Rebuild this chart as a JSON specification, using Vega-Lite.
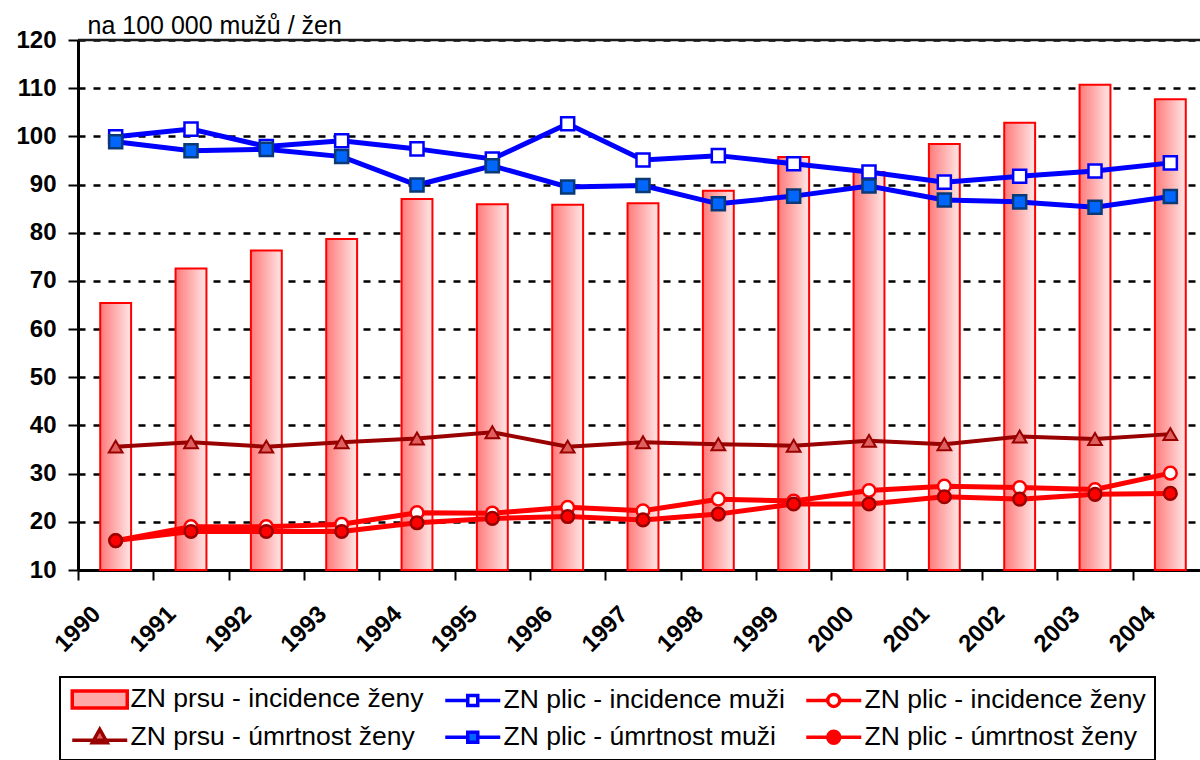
{
  "$schema": "https://vega.github.io/schema/vega-lite/v6.json",
  "width": 1122,
  "height": 530,
  "autosize": {"type": "none"},
  "padding": {"left": 78, "top": 40, "right": 0, "bottom": 190},
  "background": "white",
  "config": {
    "view": {"stroke": null},
    "font": "Liberation Sans",
    "legend": {
      "strokeColor": "black",
      "strokeWidth": 2,
      "padding": 9,
      "labelFont": "Liberation Sans",
      "labelFontSize": 26.5,
      "labelColor": "black",
      "labelLimit": 0,
      "labelOffset": 35,
      "symbolSize": 400,
      "symbolStrokeWidth": 3.5,
      "symbolOpacity": 1,
      "columnPadding": 14,
      "rowPadding": 7
    }
  },
  "data": {
    "values": [
      {"year": "1990", "series": "ZN prsu - incidence ženy", "value": 65.4},
      {"year": "1991", "series": "ZN prsu - incidence ženy", "value": 72.6},
      {"year": "1992", "series": "ZN prsu - incidence ženy", "value": 76.3},
      {"year": "1993", "series": "ZN prsu - incidence ženy", "value": 78.7},
      {"year": "1994", "series": "ZN prsu - incidence ženy", "value": 87.0},
      {"year": "1995", "series": "ZN prsu - incidence ženy", "value": 85.9},
      {"year": "1996", "series": "ZN prsu - incidence ženy", "value": 85.8},
      {"year": "1997", "series": "ZN prsu - incidence ženy", "value": 86.1},
      {"year": "1998", "series": "ZN prsu - incidence ženy", "value": 88.7},
      {"year": "1999", "series": "ZN prsu - incidence ženy", "value": 95.7},
      {"year": "2000", "series": "ZN prsu - incidence ženy", "value": 92.6},
      {"year": "2001", "series": "ZN prsu - incidence ženy", "value": 98.4},
      {"year": "2002", "series": "ZN prsu - incidence ženy", "value": 102.8},
      {"year": "2003", "series": "ZN prsu - incidence ženy", "value": 110.7},
      {"year": "2004", "series": "ZN prsu - incidence ženy", "value": 107.7},
      {"year": "1990", "series": "ZN plic - incidence muži", "value": 99.9},
      {"year": "1991", "series": "ZN plic - incidence muži", "value": 101.5},
      {"year": "1992", "series": "ZN plic - incidence muži", "value": 97.9},
      {"year": "1993", "series": "ZN plic - incidence muži", "value": 99.1},
      {"year": "1994", "series": "ZN plic - incidence muži", "value": 97.4},
      {"year": "1995", "series": "ZN plic - incidence muži", "value": 95.3},
      {"year": "1996", "series": "ZN plic - incidence muži", "value": 102.6},
      {"year": "1997", "series": "ZN plic - incidence muži", "value": 95.1},
      {"year": "1998", "series": "ZN plic - incidence muži", "value": 96.0},
      {"year": "1999", "series": "ZN plic - incidence muži", "value": 94.3},
      {"year": "2000", "series": "ZN plic - incidence muži", "value": 92.6},
      {"year": "2001", "series": "ZN plic - incidence muži", "value": 90.5},
      {"year": "2002", "series": "ZN plic - incidence muži", "value": 91.7},
      {"year": "2003", "series": "ZN plic - incidence muži", "value": 92.8},
      {"year": "2004", "series": "ZN plic - incidence muži", "value": 94.5},
      {"year": "1990", "series": "ZN plic - incidence ženy", "value": 16.1},
      {"year": "1991", "series": "ZN plic - incidence ženy", "value": 19.0},
      {"year": "1992", "series": "ZN plic - incidence ženy", "value": 19.0},
      {"year": "1993", "series": "ZN plic - incidence ženy", "value": 19.5},
      {"year": "1994", "series": "ZN plic - incidence ženy", "value": 21.9},
      {"year": "1995", "series": "ZN plic - incidence ženy", "value": 21.8},
      {"year": "1996", "series": "ZN plic - incidence ženy", "value": 23.0},
      {"year": "1997", "series": "ZN plic - incidence ženy", "value": 22.3},
      {"year": "1998", "series": "ZN plic - incidence ženy", "value": 24.7},
      {"year": "1999", "series": "ZN plic - incidence ženy", "value": 24.3},
      {"year": "2000", "series": "ZN plic - incidence ženy", "value": 26.5},
      {"year": "2001", "series": "ZN plic - incidence ženy", "value": 27.4},
      {"year": "2002", "series": "ZN plic - incidence ženy", "value": 27.1},
      {"year": "2003", "series": "ZN plic - incidence ženy", "value": 26.7},
      {"year": "2004", "series": "ZN plic - incidence ženy", "value": 30.1},
      {"year": "1990", "series": "ZN prsu - úmrtnost ženy", "value": 35.6},
      {"year": "1991", "series": "ZN prsu - úmrtnost ženy", "value": 36.5},
      {"year": "1992", "series": "ZN prsu - úmrtnost ženy", "value": 35.6},
      {"year": "1993", "series": "ZN prsu - úmrtnost ženy", "value": 36.5},
      {"year": "1994", "series": "ZN prsu - úmrtnost ženy", "value": 37.3},
      {"year": "1995", "series": "ZN prsu - úmrtnost ženy", "value": 38.6},
      {"year": "1996", "series": "ZN prsu - úmrtnost ženy", "value": 35.6},
      {"year": "1997", "series": "ZN prsu - úmrtnost ženy", "value": 36.5},
      {"year": "1998", "series": "ZN prsu - úmrtnost ženy", "value": 36.1},
      {"year": "1999", "series": "ZN prsu - úmrtnost ženy", "value": 35.8},
      {"year": "2000", "series": "ZN prsu - úmrtnost ženy", "value": 36.8},
      {"year": "2001", "series": "ZN prsu - úmrtnost ženy", "value": 36.1},
      {"year": "2002", "series": "ZN prsu - úmrtnost ženy", "value": 37.7},
      {"year": "2003", "series": "ZN prsu - úmrtnost ženy", "value": 37.2},
      {"year": "2004", "series": "ZN prsu - úmrtnost ženy", "value": 38.2},
      {"year": "1990", "series": "ZN plic - úmrtnost muži", "value": 98.9},
      {"year": "1991", "series": "ZN plic - úmrtnost muži", "value": 97.0},
      {"year": "1992", "series": "ZN plic - úmrtnost muži", "value": 97.3},
      {"year": "1993", "series": "ZN plic - úmrtnost muži", "value": 95.8},
      {"year": "1994", "series": "ZN plic - úmrtnost muži", "value": 89.9},
      {"year": "1995", "series": "ZN plic - úmrtnost muži", "value": 93.9},
      {"year": "1996", "series": "ZN plic - úmrtnost muži", "value": 89.5},
      {"year": "1997", "series": "ZN plic - úmrtnost muži", "value": 89.8},
      {"year": "1998", "series": "ZN plic - úmrtnost muži", "value": 86.0},
      {"year": "1999", "series": "ZN plic - úmrtnost muži", "value": 87.6},
      {"year": "2000", "series": "ZN plic - úmrtnost muži", "value": 89.7},
      {"year": "2001", "series": "ZN plic - úmrtnost muži", "value": 86.8},
      {"year": "2002", "series": "ZN plic - úmrtnost muži", "value": 86.4},
      {"year": "2003", "series": "ZN plic - úmrtnost muži", "value": 85.3},
      {"year": "2004", "series": "ZN plic - úmrtnost muži", "value": 87.5},
      {"year": "1990", "series": "ZN plic - úmrtnost ženy", "value": 16.1},
      {"year": "1991", "series": "ZN plic - úmrtnost ženy", "value": 18.0},
      {"year": "1992", "series": "ZN plic - úmrtnost ženy", "value": 18.0},
      {"year": "1993", "series": "ZN plic - úmrtnost ženy", "value": 18.0},
      {"year": "1994", "series": "ZN plic - úmrtnost ženy", "value": 19.8},
      {"year": "1995", "series": "ZN plic - úmrtnost ženy", "value": 20.7},
      {"year": "1996", "series": "ZN plic - úmrtnost ženy", "value": 21.1},
      {"year": "1997", "series": "ZN plic - úmrtnost ženy", "value": 20.4},
      {"year": "1998", "series": "ZN plic - úmrtnost ženy", "value": 21.6},
      {"year": "1999", "series": "ZN plic - úmrtnost ženy", "value": 23.7},
      {"year": "2000", "series": "ZN plic - úmrtnost ženy", "value": 23.7},
      {"year": "2001", "series": "ZN plic - úmrtnost ženy", "value": 25.2},
      {"year": "2002", "series": "ZN plic - úmrtnost ženy", "value": 24.7},
      {"year": "2003", "series": "ZN plic - úmrtnost ženy", "value": 25.7},
      {"year": "2004", "series": "ZN plic - úmrtnost ženy", "value": 25.9}
    ]
  },
  "layer": [
    {
      "encoding": {
        "x": {
          "field": "year",
          "type": "ordinal",
          "scale": {"range": [0, 1130], "paddingInner": 0.59, "paddingOuter": 0.295},
          "axis": {
            "title": null,
            "labelAngle": -45,
            "labelAlign": "right",
            "labelBaseline": "middle",
            "labelFont": "Liberation Sans",
            "labelFontSize": 24,
            "labelFontWeight": "bold",
            "labelColor": "black",
            "labelPadding": 30,
            "labelOffset": 3,
            "bandPosition": 0,
            "tickOffset": -22.2,
            "tickSize": 10,
            "tickColor": "black",
            "tickWidth": 2,
            "domainColor": "black",
            "domainWidth": 3,
            "grid": false
          }
        },
        "y": {
          "field": "value",
          "type": "quantitative",
          "scale": {"domain": [10, 120], "nice": false, "zero": false},
          "axis": {
            "title": "na 100 000 mužů / žen",
            "titleAngle": 0,
            "titleAlign": "left",
            "titleBaseline": "alphabetic",
            "titleX": 9,
            "titleY": -7,
            "titleFont": "Liberation Sans",
            "titleFontSize": 25,
            "titleFontWeight": "normal",
            "titleColor": "black",
            "values": [10, 20, 30, 40, 50, 60, 70, 80, 90, 100, 110, 120],
            "labelFont": "Liberation Sans",
            "labelFontSize": 24,
            "labelFontWeight": "bold",
            "labelColor": "black",
            "labelPadding": 12,
            "tickSize": 10,
            "tickColor": "black",
            "tickWidth": 2,
            "domainColor": "black",
            "domainWidth": 3,
            "grid": true,
            "gridColor": "black",
            "gridDash": [7, 8],
            "gridWidth": 2.5
          }
        }
      },
      "layer": [
        {
          "transform": [{"filter": "datum.series === 'ZN prsu - incidence ženy'"}],
          "mark": {
            "type": "bar",
            "opacity": 1,
            "fill": {"gradient": "linear", "x1": 0, "y1": 0, "x2": 1, "y2": 0, "stops": [{"offset": 0, "color": "#ff7a7a"}, {"offset": 1, "color": "#ffe6e6"}]},
            "stroke": "#ff0000",
            "strokeWidth": 2
          },
          "encoding": {"y2": {"datum": 10}}
        },
        {
          "transform": [{"filter": "datum.series === 'ZN plic - incidence muži'"}],
          "mark": {"type": "line", "color": "#0000ff", "strokeWidth": 5}
        },
        {
          "transform": [{"filter": "datum.series === 'ZN plic - incidence muži'"}],
          "mark": {"type": "point", "shape": "square", "filled": true, "opacity": 1, "fill": "white", "stroke": "#0000ff", "strokeWidth": 2.5, "size": 170}
        },
        {
          "transform": [{"filter": "datum.series === 'ZN plic - incidence ženy'"}],
          "mark": {"type": "line", "color": "#ff0000", "strokeWidth": 5}
        },
        {
          "transform": [{"filter": "datum.series === 'ZN plic - incidence ženy'"}],
          "mark": {"type": "point", "shape": "circle", "filled": true, "opacity": 1, "fill": "white", "stroke": "#ff0000", "strokeWidth": 2.5, "size": 160}
        },
        {
          "transform": [{"filter": "datum.series === 'ZN prsu - úmrtnost ženy'"}],
          "mark": {"type": "line", "color": "#990000", "strokeWidth": 4}
        },
        {
          "transform": [{"filter": "datum.series === 'ZN prsu - úmrtnost ženy'"}],
          "mark": {"type": "point", "shape": "triangle-up", "filled": true, "opacity": 1, "fill": "#e06060", "stroke": "#990000", "strokeWidth": 2, "size": 190}
        },
        {
          "transform": [{"filter": "datum.series === 'ZN plic - úmrtnost muži'"}],
          "mark": {"type": "line", "color": "#0000ff", "strokeWidth": 5}
        },
        {
          "transform": [{"filter": "datum.series === 'ZN plic - úmrtnost muži'"}],
          "mark": {"type": "point", "shape": "square", "filled": true, "opacity": 1, "fill": "#0066ff", "stroke": "#0a3a75", "strokeWidth": 2.5, "size": 170}
        },
        {
          "transform": [{"filter": "datum.series === 'ZN plic - úmrtnost ženy'"}],
          "mark": {"type": "line", "color": "#ff0000", "strokeWidth": 5}
        },
        {
          "transform": [{"filter": "datum.series === 'ZN plic - úmrtnost ženy'"}],
          "mark": {"type": "point", "shape": "circle", "filled": true, "opacity": 1, "fill": "#ff0000", "stroke": "#990000", "strokeWidth": 2.5, "size": 160}
        },
        {
          "transform": [{"filter": "false"}],
          "mark": {"type": "point", "filled": true, "opacity": 1},
          "encoding": {
            "shape": {
              "field": "series",
              "type": "nominal",
              "scale": {
                "domain": ["ZN prsu - incidence ženy", "ZN plic - incidence muži", "ZN plic - incidence ženy", "ZN prsu - úmrtnost ženy", "ZN plic - úmrtnost muži", "ZN plic - úmrtnost ženy"],
                "range": [
                  "M-1,-0.85H4.5V0.85H-1Z",
                  "M-1,0H1.25M2.25,0H4.5M1.25,-0.5H2.25V0.5H1.25Z",
                  "M-1,0H1.15M2.35,0H4.5M2.35,0A0.6,0.6,0,1,1,1.15,0A0.6,0.6,0,1,1,2.35,0Z",
                  "M-1,0.3H4.5M1.75,-0.8L2.5,0.55H1Z",
                  "M-1,0H1.25M2.25,0H4.5M1.25,-0.5H2.25V0.5H1.25Z",
                  "M-1,0H1.15M2.35,0H4.5M2.35,0A0.6,0.6,0,1,1,1.15,0A0.6,0.6,0,1,1,2.35,0Z"
                ]
              },
              "legend": {"title": null, "orient": "none", "legendX": -18, "legendY": 637, "columns": 3, "direction": "horizontal"}
            },
            "fill": {
              "field": "series",
              "type": "nominal",
              "scale": {
                "domain": ["ZN prsu - incidence ženy", "ZN plic - incidence muži", "ZN plic - incidence ženy", "ZN prsu - úmrtnost ženy", "ZN plic - úmrtnost muži", "ZN plic - úmrtnost ženy"],
                "range": ["#ffa8a8", "#ffffff", "#ffffff", "#e06060", "#0066ff", "#ff0000"]
              },
              "legend": {"title": null, "orient": "none", "legendX": -18, "legendY": 637, "columns": 3, "direction": "horizontal"}
            },
            "stroke": {
              "field": "series",
              "type": "nominal",
              "scale": {
                "domain": ["ZN prsu - incidence ženy", "ZN plic - incidence muži", "ZN plic - incidence ženy", "ZN prsu - úmrtnost ženy", "ZN plic - úmrtnost muži", "ZN plic - úmrtnost ženy"],
                "range": ["#ff0000", "#0000ff", "#ff0000", "#990000", "#0000ff", "#ff0000"]
              },
              "legend": {"title": null, "orient": "none", "legendX": -18, "legendY": 637, "columns": 3, "direction": "horizontal"}
            }
          }
        }
      ]
    },
    {
      "data": {"values": [{"level": 120}]},
      "mark": {"type": "rule", "color": "#1a1a1a", "strokeWidth": 2.5},
      "encoding": {"y": {"field": "level", "type": "quantitative"}}
    }
  ]
}
